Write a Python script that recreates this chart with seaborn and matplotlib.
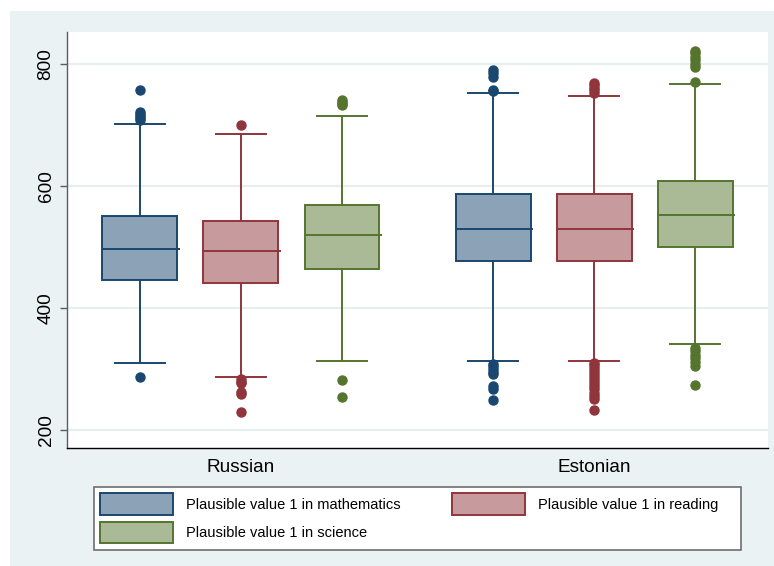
import matplotlib
matplotlib.use("Agg")
import matplotlib.pyplot as plt
from matplotlib.patches import Patch, Rectangle
import numpy as np
import pandas as pd
import seaborn as sns

# ---------------------------------------------------------------------------
# Scores by language of instruction: five-number summaries plus outliers
# ---------------------------------------------------------------------------
LANGUAGES = ["Russian", "Estonian"]
SUBJECTS = [
    "Plausible value 1 in mathematics",
    "Plausible value 1 in reading",
    "Plausible value 1 in science",
]

# each list is [Russian, Estonian]
MATH_WHISKER_LOW = [309, 313]
MATH_Q1 = [446, 476]
MATH_MEDIAN = [496, 529]
MATH_Q3 = [550, 587]
MATH_WHISKER_HIGH = [701, 752]
MATH_OUTLIERS = [
    [286, 708, 711, 714, 718, 722, 757],
    [249, 266, 272, 291, 295, 300, 305, 308, 755, 758, 779, 785, 790],
]

READ_WHISKER_LOW = [287, 313]
READ_Q1 = [440, 476]
READ_MEDIAN = [493, 530]
READ_Q3 = [543, 586]
READ_WHISKER_HIGH = [685, 748]
READ_OUTLIERS = [
    [229, 258, 262, 276, 279, 283, 700],
    [232, 250, 255, 260, 266, 271, 276, 281, 286, 291, 296, 301, 306, 310,
     753, 757, 761, 765, 769],
]

SCI_WHISKER_LOW = [312, 340]
SCI_Q1 = [463, 500]
SCI_MEDIAN = [519, 553]
SCI_Q3 = [569, 608]
SCI_WHISKER_HIGH = [714, 768]
SCI_OUTLIERS = [
    [253, 282, 732, 735, 738, 741],
    [273, 305, 311, 317, 323, 329, 334, 771, 795, 800, 806, 812, 818, 821],
]

LINE_COLORS = ["#1a476f", "#90353b", "#55752f"]
FILL_COLORS = ["#8ca3b7", "#c79a9d", "#aaba97"]
BG = "#eaf2f3"

summaries = {
    SUBJECTS[0]: (MATH_WHISKER_LOW, MATH_Q1, MATH_MEDIAN, MATH_Q3,
                  MATH_WHISKER_HIGH, MATH_OUTLIERS),
    SUBJECTS[1]: (READ_WHISKER_LOW, READ_Q1, READ_MEDIAN, READ_Q3,
                  READ_WHISKER_HIGH, READ_OUTLIERS),
    SUBJECTS[2]: (SCI_WHISKER_LOW, SCI_Q1, SCI_MEDIAN, SCI_Q3,
                  SCI_WHISKER_HIGH, SCI_OUTLIERS),
}

# Expand each summary into a sample whose Tukey box statistics reproduce it:
# equal-sized blocks at the five summary values plus the individual outliers.
BLOCK = 60
records = []
for subject, (wlo, q1, med, q3, whi, outl) in summaries.items():
    for i, lang in enumerate(LANGUAGES):
        values = ([wlo[i]] * BLOCK + [q1[i]] * BLOCK + [med[i]] * BLOCK
                  + [q3[i]] * BLOCK + [whi[i]] * BLOCK + list(outl[i]))
        records += [(lang, subject, v) for v in values]
df = pd.DataFrame(records, columns=["language", "subject", "score"])

# ---------------------------------------------------------------------------
plt.rcParams["font.family"] = ["Liberation Sans", "DejaVu Sans"]

W, H = 774, 566
fig = plt.figure(figsize=(W / 100, H / 100), dpi=100, facecolor="white")
fig.add_artist(Rectangle((10 / W, 0), 1, 1 - 11 / H, transform=fig.transFigure,
                         facecolor=BG, edgecolor="none", zorder=-5))

ax = fig.add_axes([67 / W, 1 - 448 / H, (767.7 - 67) / W, (448 - 32) / H])
ax.set_facecolor("white")

BOX_WIDTH = 0.858
GAP = 0.258
palette = dict(zip(SUBJECTS, FILL_COLORS))
for subject, line_color in zip(SUBJECTS, LINE_COLORS):
    sns.boxplot(
        data=df[df["subject"] == subject], x="language", y="score",
        hue="subject", order=LANGUAGES, hue_order=SUBJECTS, palette=palette,
        dodge=True, width=BOX_WIDTH, gap=GAP, saturation=1,
        linecolor=line_color, linewidth=1.4, legend=False,
        capwidths=0.1415, fliersize=6.5,
        flierprops=dict(marker="o", markerfacecolor=line_color,
                        markeredgecolor=line_color),
        ax=ax,
    )

# Median bars poke slightly past the right edge of each box
single_box = BOX_WIDTH / len(SUBJECTS) * (1 - GAP)
for line in ax.lines:
    xd, yd = np.asarray(line.get_xdata(), float), np.asarray(line.get_ydata(), float)
    if len(xd) == 2 and yd[0] == yd[1] and abs((xd[1] - xd[0]) - single_box) < 1e-6:
        line.set_xdata([xd[0], xd[1] + 0.007])

ax.set_xlim(-0.4925, 1.491)
ax.set_ylim(170, 852.5)
ax.set_yticks([200, 400, 600, 800])
ax.set_xlabel("")
ax.set_ylabel("")

ax.grid(axis="y", color="#e6eef0", linewidth=1.6, zorder=0)
ax.grid(axis="x", visible=False)
ax.set_axisbelow(True)

for side in ("top", "right"):
    ax.spines[side].set_visible(False)
ax.spines["left"].set_color("#5c5c5c")
ax.spines["left"].set_linewidth(1.0)
ax.spines["bottom"].set_color("black")
ax.spines["bottom"].set_linewidth(1.0)

ax.tick_params(axis="y", direction="out", length=5, width=1, color="#5c5c5c",
               labelsize=13.7, pad=4, labelrotation=90)
for lbl in ax.get_yticklabels():
    lbl.set_va("center")
ax.tick_params(axis="x", length=0, labelsize=13.7, pad=8)

# Legend laid out row by row: mathematics and reading on the first row,
# science below mathematics (matplotlib fills legend columns first).
handles = [Patch(facecolor=f, edgecolor=e, linewidth=1.4)
           for f, e in zip(FILL_COLORS, LINE_COLORS)]
order = [0, 2, 1]
labels = [SUBJECTS[i] for i in order]
labels[2] = labels[2] + "    "
leg = fig.legend(
    [handles[i] for i in order], labels, ncol=2, loc="upper left",
    bbox_to_anchor=(94 / W, 1 - 549 / H, (741 - 94) / W, (549 - 487) / H),
    mode="expand", borderaxespad=0, fontsize=10.5, frameon=True,
    fancybox=False, framealpha=1, edgecolor="#6e6e6e",
    handlelength=5.0, handleheight=1.9, handletextpad=0.9,
    labelspacing=0.45, borderpad=0.44,
)
leg.get_frame().set_linewidth(1.2)

fig.savefig("out.png", dpi=100, facecolor="white")
